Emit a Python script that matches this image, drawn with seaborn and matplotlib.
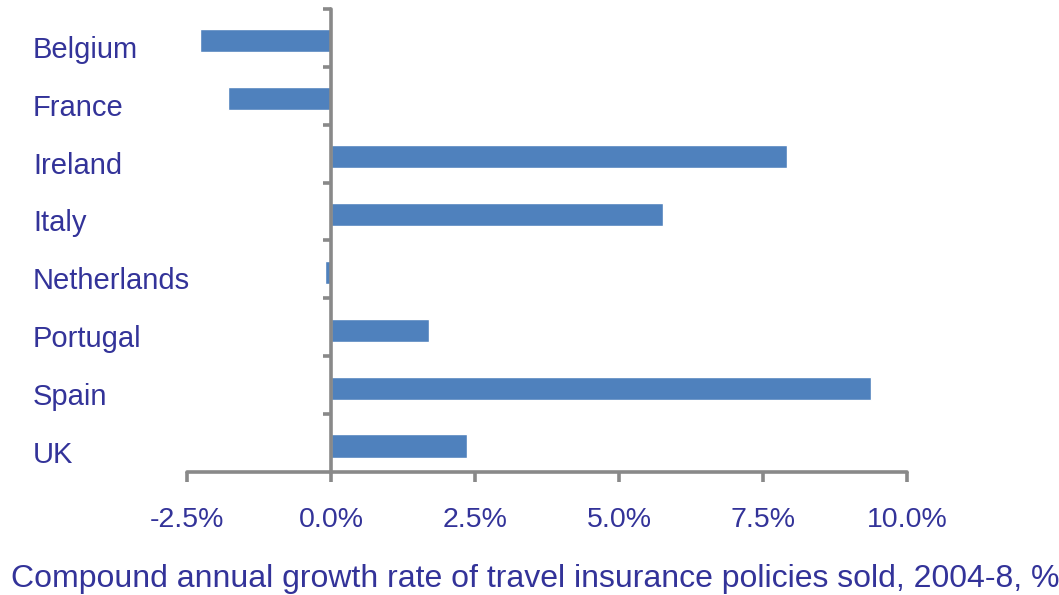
import matplotlib
matplotlib.use('Agg')
from matplotlib import pyplot as plt
from matplotlib.ticker import FixedLocator
from matplotlib.transforms import ScaledTranslation
import seaborn as sns
import pandas as pd

countries = ['Belgium', 'France', 'Ireland', 'Italy', 'Netherlands', 'Portugal', 'Spain', 'UK']
growth = [-2.27, -1.79, 7.92, 5.76, -0.10, 1.70, 9.37, 2.36]
xticks = [-2.5, 0.0, 2.5, 5.0, 7.5, 10.0]
xlabels = ['-2.5%', '0.0%', '2.5%', '5.0%', '7.5%', '10.0%']
caption = 'Compound annual growth rate of travel insurance policies sold, 2004-8, %'

df = pd.DataFrame({'country': countries, 'growth': growth})

sns.set_style('white')
plt.rcParams['font.family'] = ['Liberation Sans', 'DejaVu Sans']

text_col = '#333399'
axis_col = '#898989'
bar_col = '#4f81bd'

fig = plt.figure(figsize=(10.59, 5.95), dpi=100)
ax = fig.add_axes([187 / 1059, 1 - 472 / 595, 720 / 1059, 463 / 595])

sns.barplot(data=df, x='growth', y='country', orient='h', color=bar_col,
            width=0.4, saturation=1, ax=ax)

ax.set_xlim(-2.5, 10)
ax.set_ylim(7.45, -0.55)
ax.set_xlabel('')
ax.set_ylabel('')

for s in ['top', 'right']:
    ax.spines[s].set_visible(False)
ax.spines['left'].set_position(('data', 0))
for s in ['left', 'bottom']:
    ax.spines[s].set_color(axis_col)
    ax.spines[s].set_linewidth(2.6)
    ax.spines[s].set_capstyle('round')
    ax.spines[s].set_zorder(3)

ax.set_xticks(xticks)
ax.set_xticklabels(xlabels, fontsize=20.5, color=text_col)
ax.tick_params(axis='x', bottom=True, direction='out', length=7, width=2.6,
               color=axis_col, pad=18)

ax.set_yticks(range(len(countries)))
ax.set_yticklabels(countries, fontsize=21, color=text_col, ha='left')
ax.yaxis.set_minor_locator(FixedLocator([i - 0.55 for i in range(len(countries))]))
ax.tick_params(axis='y', which='major', left=True, length=0, pad=(331 - 33) * 0.72)
ax.tick_params(axis='y', which='minor', left=True, direction='out', length=6, width=2.6,
               color=axis_col)

# labels sit a little below the bar centres in the original
shift = ScaledTranslation(0, -6 / 100, fig.dpi_scale_trans)
for lab in ax.get_yticklabels():
    lab.set_transform(lab.get_transform() + shift)

fig.text(0.505, 1 - 579 / 595, caption, fontsize=23, color=text_col, ha='center', va='center')

fig.savefig('out.png', dpi=100)
